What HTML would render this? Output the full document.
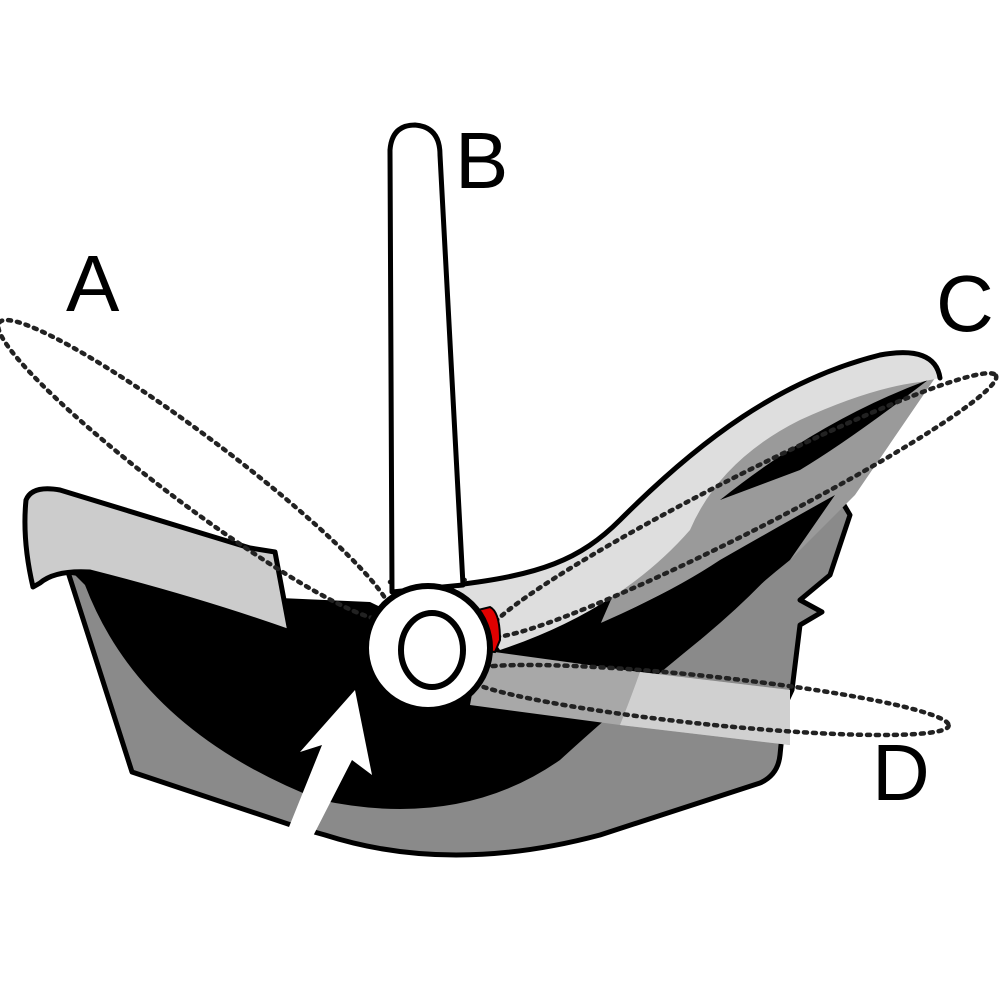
<!DOCTYPE html>
<html><head><style>
html,body{margin:0;padding:0;background:#fff;}
svg{display:block;}
text{font-family:"Liberation Sans",sans-serif;font-size:80px;fill:#000;}
</style></head><body>
<svg width="1000" height="1000" viewBox="0 0 1000 1000" xmlns="http://www.w3.org/2000/svg">
<rect width="1000" height="1000" fill="#fff"/>
<!-- outer gray shell -->
<path d="M68,572 L132,772 L300,828 L325,835 Q450,875 600,835 L760,783 Q778,775 780,755 L785,705 L792,690 L800,625 L822,612 L800,600 L830,575 L850,515 L838,495 L560,640 Z" fill="#8a8a8a" stroke="#000" stroke-width="5" stroke-linejoin="round"/>
<!-- black interior -->
<path d="M75,575 Q160,585 280,598 L370,602 L470,650 L740,530 L832,497 Q785,570 700,640 Q620,705 560,760 Q460,830 320,800 Q140,730 85,585 Z" fill="#000"/>
<!-- medium gray under wing -->
<path d="M600,625 L650,510 L760,420 L880,378 L935,378 L855,495 L790,560 L700,575 Z" fill="#9a9a9a"/>
<path d="M560,640 Q660,600 720,560 Q790,520 835,495 L790,560 Q740,600 700,640 Z" fill="#000"/>
<path d="M720,500 Q820,420 928,380 Q850,440 800,470 Z" fill="#000"/>
<!-- seat wing -->
<path d="M455,585 C540,575 580,560 620,520 C700,440 780,380 880,355 Q935,345 940,378 L920,382 Q870,388 800,420 Q720,460 690,530 Q620,610 500,650 Z" fill="#dedede"/>
<path d="M455,585 C540,575 580,560 620,520 C700,440 780,380 880,355 Q935,345 940,378" fill="none" stroke="#000" stroke-width="5" stroke-linecap="round"/>
<!-- D band region -->
<path d="M480,650 L640,672 L790,690 L790,745 L620,725 L470,705 Z" fill="#a8a8a8"/>
<path d="M640,672 L790,690 L790,745 L620,725 Q630,700 640,672 Z" fill="#d0d0d0"/>
<!-- hood -->
<path d="M33,587 Q22,540 26,500 Q32,485 60,490 L250,548 L275,552 L290,632 Q200,600 90,572 Q55,570 40,583 Z" fill="#cccccc" stroke="#000" stroke-width="5" stroke-linejoin="round"/>
<!-- dotted bands -->
<g fill="none" stroke="#222" stroke-width="4.5" stroke-dasharray="3 6" stroke-linecap="round">
<ellipse cx="195" cy="470" rx="245" ry="34" transform="rotate(37 195 470)"/>
<ellipse cx="742" cy="505" rx="285" ry="28" transform="rotate(-27 742 505)"/>
<ellipse cx="705" cy="700" rx="245" ry="24" transform="rotate(6 705 700)"/>
<path d="M390,582 Q430,575 465,580"/>
</g>
<!-- handle -->
<path d="M392,592 L390,150 Q392,125 415,125 Q440,127 440,155 L463,585 Z" fill="#fff" stroke="#000" stroke-width="5" stroke-linejoin="round"/>
<!-- red button -->
<path d="M470,612 L490,607 Q500,612 500,640 L495,652 L478,650 Z" fill="#e00000" stroke="#000" stroke-width="2"/>
<!-- ring -->
<circle cx="428" cy="648" r="62" fill="#fff" stroke="#000" stroke-width="6"/>
<ellipse cx="432" cy="650" rx="31" ry="37" fill="#fff" stroke="#000" stroke-width="6"/>
<!-- white arrow -->
<path d="M287,832 L322,745 L300,752 L355,690 L372,775 L352,760 L310,842 Z" fill="#fff"/>
<!-- labels -->
<text x="66" y="311">A</text>
<text x="455" y="188">B</text>
<text x="936" y="331">C</text>
<text x="872" y="800">D</text>
</svg>
</body></html>
